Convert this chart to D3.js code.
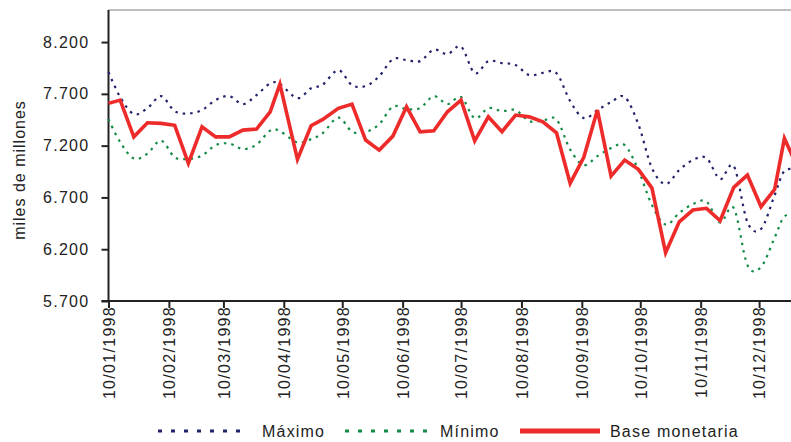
<!DOCTYPE html>
<html>
<head>
<meta charset="utf-8">
<script src="https://cdn.jsdelivr.net/npm/d3@7"></script>
<style>
  body { margin: 0; background: #fff; }
  svg { display: block; font-family: "Liberation Sans", Arial, sans-serif; }
</style>
</head>
<body>
<svg id="chart"></svg>
<script>
// Weekly dates (dd)
const dates = ["1998-01-10","1998-01-16","1998-01-23","1998-01-30","1998-02-06","1998-02-13","1998-02-20","1998-02-27",
  "1998-03-06","1998-03-13","1998-03-20","1998-03-27","1998-04-03","1998-04-08","1998-04-17","1998-04-24","1998-04-30",
  "1998-05-08","1998-05-15","1998-05-22","1998-05-29","1998-06-05","1998-06-12","1998-06-19","1998-06-26","1998-07-03",
  "1998-07-10","1998-07-17","1998-07-24","1998-07-31","1998-08-07","1998-08-14","1998-08-21","1998-08-28","1998-09-04",
  "1998-09-11","1998-09-18","1998-09-25","1998-10-02","1998-10-09","1998-10-16","1998-10-23","1998-10-30","1998-11-06",
  "1998-11-13","1998-11-20","1998-11-27","1998-12-04","1998-12-11","1998-12-18","1998-12-23","1998-12-30"];

const maximo = [7910,7669,7505,7562,7678,7533,7511,7543,7640,7678,7601,7688,7801,7794,7659,7755,7789,7929,7784,7775,
  7871,8035,8026,8016,8127,8084,8156,7900,8016,7997,7978,7881,7903,7900,7630,7466,7543,7620,7669,7408,6983,6829,6964,
  7061,7080,6877,7003,6462,6395,6723,6955,6965];

const minimo = [7456,7234,7075,7123,7249,7087,7073,7104,7205,7220,7167,7210,7345,7340,7230,7263,7321,7471,7336,7331,
  7408,7577,7553,7563,7678,7601,7669,7466,7562,7534,7543,7437,7442,7453,7162,7012,7099,7176,7205,6964,6626,6438,6549,
  6636,6660,6458,6597,6047,6028,6313,6515,6550];

const baseMonetaria = [7608,7640,7285,7421,7415,7396,7029,7382,7285,7285,7350,7360,7527,7794,7067,7392,7453,7560,7601,
  7254,7157,7292,7575,7334,7343,7527,7640,7247,7478,7334,7495,7478,7430,7324,6836,7087,7543,6906,7061,6971,6790,6166,
  6465,6578,6595,6475,6797,6916,6610,6778,7270,6980];

const yTicks = [5700, 6200, 6700, 7200, 7700, 8200];
const xTicks = ["1998-01-10","1998-02-10","1998-03-10","1998-04-10","1998-05-10","1998-06-10",
  "1998-07-10","1998-08-10","1998-09-10","1998-10-10","1998-11-10","1998-12-10"];

const seriesNames = ["Máximo", "Mínimo", "Base monetaria"];

const W = 791, H = 442;
const plot = { left: 108.5, top: 10, bottom: 301, right: 800 };

const parse = d3.timeParse("%Y-%m-%d");
const es = d3.formatLocale({ decimal: ",", thousands: ".", grouping: [3], currency: ["$", ""] });

const svg = d3.select("#chart").attr("width", W).attr("height", H);

const x = d3.scaleTime()
  .domain([parse("1998-01-10"), parse("1998-12-31")])
  .range([plot.left, plot.right]);

const y = d3.scaleLinear()
  .domain([5700, 8500])
  .range([plot.bottom, plot.top + 1]);

// top border of plot area
svg.append("line")
  .attr("x1", plot.left).attr("x2", W)
  .attr("y1", plot.top).attr("y2", plot.top)
  .attr("stroke", "#a8a8a8").attr("stroke-width", 1.6);

// Axes
const yAxis = svg.append("g")
  .attr("transform", `translate(${plot.left},0)`)
  .call(d3.axisLeft(y).tickValues(yTicks).tickFormat(es.format(",")).tickSize(7).tickPadding(12));
yAxis.select(".domain").remove();
yAxis.append("line")
  .attr("y1", plot.top).attr("y2", plot.bottom + 1)
  .attr("stroke", "#222").attr("stroke-width", 2);
yAxis.selectAll(".tick line").attr("stroke", "#222").attr("stroke-width", 2);
yAxis.selectAll(".tick text")
  .attr("fill", "#222").style("font-size", "16px").style("letter-spacing", "1.3px");

const xAxis = svg.append("g")
  .attr("transform", `translate(0,${plot.bottom})`)
  .call(d3.axisBottom(x).tickValues(xTicks.map(parse)).tickFormat(d3.timeFormat("%d/%m/%Y")).tickSize(7).tickPadding(4));
xAxis.select(".domain").remove();
xAxis.append("line")
  .attr("x1", plot.left - 7).attr("x2", W)
  .attr("stroke", "#222").attr("stroke-width", 2);
xAxis.selectAll(".tick line").attr("stroke", "#222").attr("stroke-width", 2);
xAxis.selectAll(".tick text")
  .attr("fill", "#222")
  .style("font-size", "16px").style("letter-spacing", "1.3px")
  .attr("text-anchor", "end")
  .attr("transform", "rotate(-90)")
  .attr("x", -5).attr("y", 0).attr("dy", "0.36em");

// y title
svg.append("text")
  .attr("transform", "translate(25,170) rotate(-90)")
  .attr("text-anchor", "middle")
  .attr("fill", "#222")
  .style("font-size", "16px").style("letter-spacing", "1px")
  .text("miles de millones");

// Lines
const smooth = d3.line()
  .x((d, i) => x(parse(dates[i])))
  .y(d => y(d))
  .curve(d3.curveCardinal.tension(0));
const straight = d3.line()
  .x((d, i) => x(parse(dates[i])))
  .y(d => y(d));

svg.append("path").attr("d", smooth(maximo))
  .attr("fill", "none").attr("stroke", "#23236b").attr("stroke-width", 2.2)
  .attr("stroke-dasharray", "2.5,5");
svg.append("path").attr("d", smooth(minimo))
  .attr("fill", "none").attr("stroke", "#138a45").attr("stroke-width", 2.2)
  .attr("stroke-dasharray", "2.5,5");
svg.append("path").attr("d", straight(baseMonetaria))
  .attr("fill", "none").attr("stroke", "#ee2b2b").attr("stroke-width", 3.6)
  .attr("stroke-linejoin", "miter");

// Legend
const legendItems = [
  { name: seriesNames[0], color: "#23236b", dash: "4,9", width: 3, x1: 158, x2: 242, tx: 262 },
  { name: seriesNames[1], color: "#138a45", dash: "4,9", width: 3, x1: 345, x2: 427, tx: 440 },
  { name: seriesNames[2], color: "#ee2b2b", dash: null, width: 5, x1: 520, x2: 600, tx: 610 }
];
const legend = svg.append("g");
legend.selectAll("line").data(legendItems).join("line")
  .attr("x1", d => d.x1).attr("x2", d => d.x2)
  .attr("y1", 431).attr("y2", 431)
  .attr("stroke", d => d.color).attr("stroke-width", d => d.width)
  .attr("stroke-dasharray", d => d.dash);
legend.selectAll("text").data(legendItems).join("text")
  .attr("x", d => d.tx).attr("y", 437)
  .attr("fill", "#222")
  .style("font-size", "16px").style("letter-spacing", "1.2px")
  .text(d => d.name);
</script>
</body>
</html>
